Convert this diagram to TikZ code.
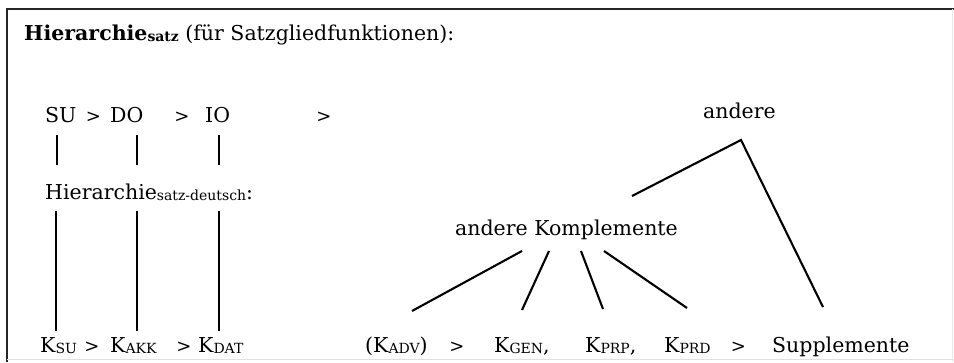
\documentclass[tikz,border=0pt]{standalone}
\usepackage{fontspec}
\setmainfont{DejaVu Serif}
\newcommand\lsub[1]{\raisebox{-1.5pt}{\fontsize{14}{14}\selectfont #1}}
\begin{document}
\begin{tikzpicture}[x=1pt,y=-1pt,
  txt/.style={anchor=base west,inner sep=0pt,font=\fontsize{20.5}{24}\selectfont},
  gt/.style={anchor=base,inner sep=0pt,font=\fontsize{18}{20}\selectfont},
  ln/.style={line width=2.1pt}]
\useasboundingbox (0,0) rectangle (954,362);
% frame
\draw[line width=2.4pt,black!85] (7,362) -- (7,9) -- (954,9);
\draw[line width=1pt,black!12] (7,359.5) -- (954,359.5);
\draw[line width=1pt,black!8] (952.5,9) -- (952.5,362);
% title
\node[txt] (title) at (24,40) {\textbf{Hierarchie}\lsub{\textbf{satz}} (für Satzgliedfunktionen):};
% row 1
\node[txt] (su) at (45,122) {SU};
\node[gt] (g1) at (93.5,122) {>};
\node[txt] (do) at (110,122) {DO};
\node[gt] (g2) at (182,122) {>};
\node[txt] (io) at (205,122) {IO};
\node[gt] (g3) at (324,122) {>};
% middle label
\node[txt] (hd) at (45,199) {Hierarchie\lsub{satz-deutsch}:};
% bottom left
\node[txt] (ksu) at (40,352) {K\lsub{SU}};
\node[gt] (g4) at (92,352) {>};
\node[txt] (kakk) at (110,352) {K\lsub{AKK}};
\node[gt] (g5) at (184,352) {>};
\node[txt] (kdat) at (198,352) {K\lsub{DAT}};
% right part
\node[txt] (andere) at (703,118) {andere};
\node[txt] (ak) at (455,235) {andere Komplemente};
\node[txt] (kadv) at (365,352) {(K\lsub{ADV})};
\node[gt] (g6) at (457,352) {>};
\node[txt] (kgen) at (494,352) {K\lsub{GEN},};
\node[txt] (kprp) at (585,352) {K\lsub{PRP},};
\node[txt] (kprd) at (664,352) {K\lsub{PRD}};
\node[gt] (g7) at (738.5,352) {>};
\node[txt] (supp) at (772,352) {Supplemente};
% connector end points
\coordinate (s1a) at (57,135);  \coordinate (s1b) at (57,165);
\coordinate (s2a) at (137,135); \coordinate (s2b) at (137,165);
\coordinate (s3a) at (219,135); \coordinate (s3b) at (219,165);
\coordinate (l1a) at (56,211);  \coordinate (l1b) at (56,331);
\coordinate (l2a) at (137,211); \coordinate (l2b) at (137,331);
\coordinate (l3a) at (219,211); \coordinate (l3b) at (219,331);
\coordinate (apex) at (741,140);
\coordinate (akTop) at (632,196);
\coordinate (suppTop) at (823,307);
\coordinate (akA) at (522,251); \coordinate (advT) at (412,311);
\coordinate (akB) at (549,251); \coordinate (genT) at (522,310);
\coordinate (akC) at (581,251); \coordinate (prpT) at (603,309);
\coordinate (akD) at (604,251); \coordinate (prdT) at (687,308);
% connectors
\draw[ln] (s1a) -- (s1b);
\draw[ln] (s2a) -- (s2b);
\draw[ln] (s3a) -- (s3b);
\draw[ln] (l1a) -- (l1b);
\draw[ln] (l2a) -- (l2b);
\draw[ln] (l3a) -- (l3b);
\draw[ln,line join=miter] (akTop) -- (apex) -- (suppTop);
\draw[ln] (akA) -- (advT);
\draw[ln] (akB) -- (genT);
\draw[ln] (akC) -- (prpT);
\draw[ln] (akD) -- (prdT);
\end{tikzpicture}
\end{document}
